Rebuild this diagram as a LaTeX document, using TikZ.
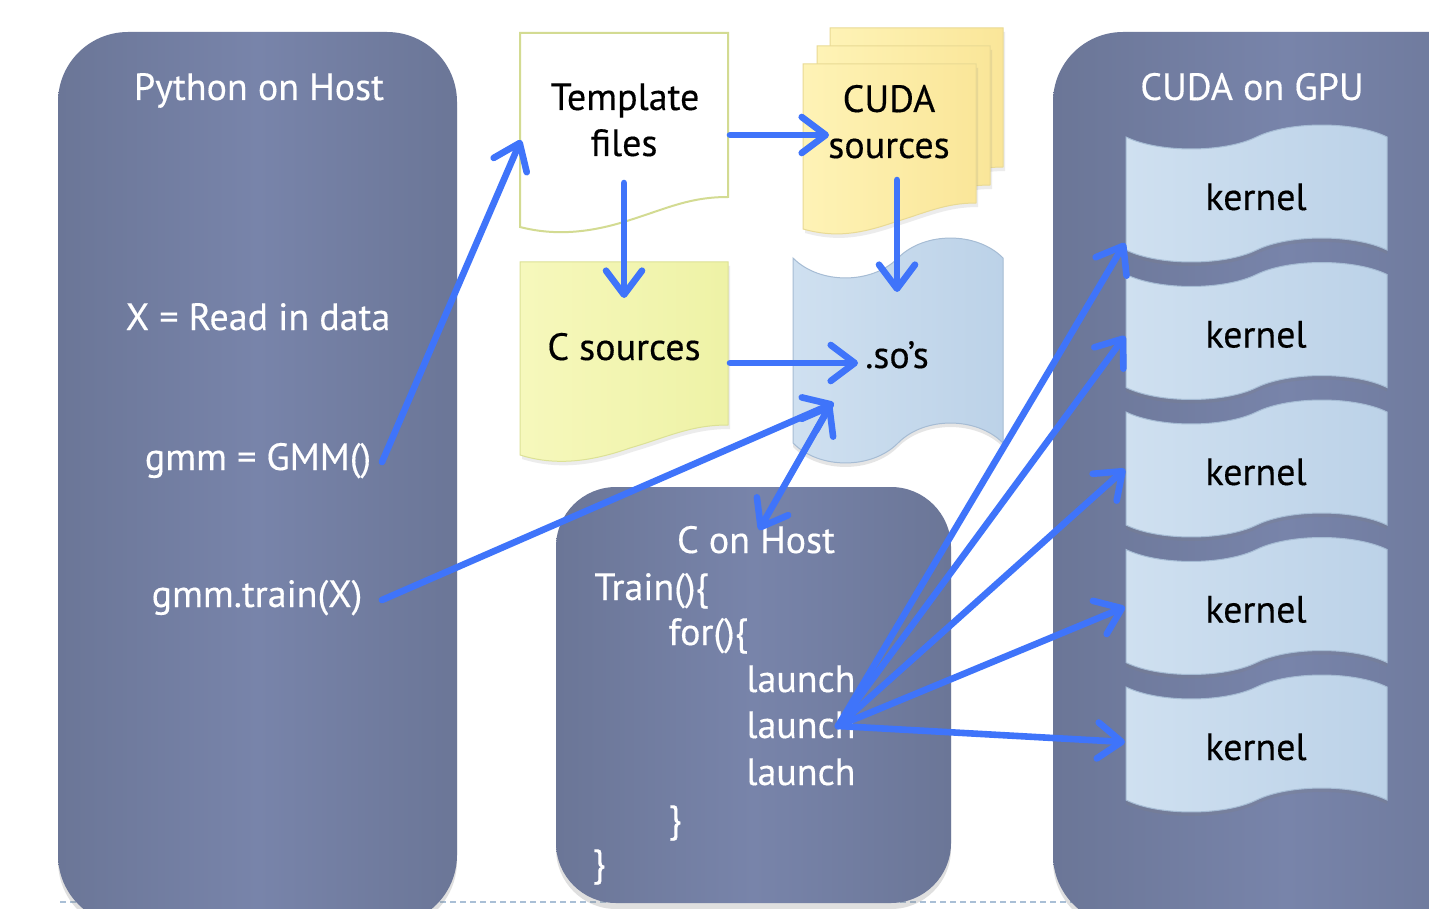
\documentclass[tikz,border=0pt]{standalone}
\usepackage{fontspec}
\setmainfont{PT Sans}[FakeBold=0.35]
\usetikzlibrary{arrows.meta,shadows}

\definecolor{panelEdge}{HTML}{6B7697}
\definecolor{panelMid}{HTML}{7884AA}
\definecolor{flowBlue}{HTML}{3F74FA}
\definecolor{tplLine}{HTML}{D3DB92}
\definecolor{cudaA}{HTML}{FEF3B6}
\definecolor{cudaB}{HTML}{FAE699}
\definecolor{cudaLine}{HTML}{E9DA94}
\definecolor{csrcA}{HTML}{F6F8BC}
\definecolor{csrcB}{HTML}{EEF2A6}
\definecolor{csrcLine}{HTML}{DCE196}
\definecolor{tapeA}{HTML}{CFE0F0}
\definecolor{tapeB}{HTML}{BCD2E8}
\definecolor{tapeLine}{HTML}{A6BCD4}
\definecolor{rule}{HTML}{A9BFD6}

% punched-tape outline: x0, x1, top y, bottom y, wave amplitude
\def\tapepath#1#2#3#4#5{%
  ({#1},{#3}) .. controls ({#1+0.125*(#2-#1)},{#3+1.33*#5}) and ({#1+0.375*(#2-#1)},{#3+1.33*#5}) .. ({0.5*(#1+#2)},{#3})
  .. controls ({#1+0.625*(#2-#1)},{#3-1.33*#5}) and ({#1+0.875*(#2-#1)},{#3-1.33*#5}) .. ({#2},{#3})
  -- ({#2},{#4}) .. controls ({#1+0.875*(#2-#1)},{#4-1.33*#5}) and ({#1+0.625*(#2-#1)},{#4-1.33*#5}) .. ({0.5*(#1+#2)},{#4})
  .. controls ({#1+0.375*(#2-#1)},{#4+1.33*#5}) and ({#1+0.125*(#2-#1)},{#4+1.33*#5}) .. ({#1},{#4}) -- cycle}

\tikzset{
  panel/.style={rounded corners=35pt, left color=panelEdge, right color=panelEdge, middle color=panelMid,
    drop shadow={opacity=0.25, shadow xshift=0pt, shadow yshift=-3pt}},
  tplsheet/.style={fill=white, draw=tplLine, line width=1pt},
  cudasheet/.style={left color=cudaA, right color=cudaB, draw=cudaLine, line width=0.5pt,
    drop shadow={opacity=0.15, shadow xshift=1pt, shadow yshift=-2pt}},
  csheet/.style={left color=csrcA, right color=csrcB, draw=csrcLine, line width=0.5pt,
    drop shadow={opacity=0.15, shadow xshift=1pt, shadow yshift=-2pt}},
  tapesheet/.style={left color=tapeA, right color=tapeB, draw=tapeLine, line width=0.5pt,
    drop shadow={opacity=0.2, shadow xshift=0pt, shadow yshift=-2pt}},
  label/.style={font=\fontsize{19}{23}\selectfont, anchor=base, inner sep=0pt},
  wlabel/.style={label, text=white},
  blabel/.style={label, text=black},
  codeline/.style={wlabel, anchor=base west},
  barb/.tip={Straight Barb[length=12pt, width=18pt, round]},
  flow/.style={draw=flowBlue, line width=3.3pt, line cap=round, line join=round, -barb},
  bothflow/.style={flow, barb-barb},
}

\begin{document}
\begin{tikzpicture}[x=0.5pt, y=-0.5pt]
\useasboundingbox (0,0) rectangle (1429,909);
\fill[white] (0,0) rectangle (1429,909);
\clip (0,0) rectangle (1429,909);

% dotted slide rule at the bottom
\draw[rule, line width=1pt, dash pattern=on 3pt off 2pt] (60,902) -- (1080,902);

% three execution domains
\path[panel] (58,32) rectangle (457,925);
\path[panel] (1053,32) rectangle (1520,925);
\path[panel, rounded corners=30pt] (556,487) rectangle (951,903);

% template file
\path[tplsheet] (520,33) -- (728,33) -- (728,197)
  .. controls (690,197) and (668,208) .. (630,220)
  .. controls (590,233) and (555,236) .. (520,227) -- cycle;

% stack of CUDA sources
\foreach \dx/\dy in {27/-36, 14/-18, 0/0} {
  \path[cudasheet, shift={(\dx,\dy)}] (803,64) -- (976,64) -- (976,203)
    .. controls (945,203) and (925,213) .. (895,222)
    .. controls (860,234) and (835,238) .. (803,229) -- cycle;
}

% C sources
\path[csheet] (520,262) -- (728,262) -- (728,425)
  .. controls (690,425) and (668,437) .. (630,448)
  .. controls (590,462) and (555,466) .. (520,455) -- cycle;

% shared objects
\path[tapesheet] \tapepath{793}{1003}{258}{443}{20};

% GPU kernels
\foreach \k in {0,...,4} {
  \pgfmathsetmacro\ky{137.5*\k}
  \path[tapesheet] \tapepath{1126}{1387}{137+\ky}{250+\ky}{12};
  \node[blabel] (kern\k) at (1256,{210+\ky}) {kernel};
}

% panel titles and host code
\node[wlabel] (pyhost) at (259,100) {Python on Host};
\node[wlabel] (gpu) at (1252,100) {CUDA on GPU};
\node[wlabel] (readx) at (258,330) {X = Read in data};
\node[wlabel] (mkgmm) at (258,470) {gmm = GMM()};
\node[wlabel] (train) at (257,607) {gmm.train(X)};

\node[wlabel] (chost) at (756,553) {C on Host};
\node[codeline] (ctrain) at (594,600) {Train()\{};
\node[codeline] (cfor) at (668,645) {for()\{};
\node[codeline] (launchA) at (746,692) {launch};
\node[codeline] (launchB) at (746,738) {launch};
\node[codeline] (launchC) at (746,785) {launch};
\node[codeline] (cclose) at (668,832) {\}};
\node[codeline] (tclose) at (592,876) {\}};

% document labels
\node[blabel] (tpl1) at (625,110) {Template};
\node[blabel] (tpl2) at (624,156) {files};
\node[blabel] (cuda1) at (889,112) {CUDA};
\node[blabel] (cuda2) at (889,158) {sources};
\node[blabel] (csrc) at (624,360) {C sources};
\node[blabel] (sos) at (897,368) {.so’s};

% connector ends
\coordinate (mkgmmOut) at (382,462);
\coordinate (tplIn) at (521,140);
\coordinate (tplOut) at (730,135);
\coordinate (tplDown) at (624,183);
\coordinate (cudaIn) at (829,135);
\coordinate (cudaDown) at (897,180);
\coordinate (csrcIn) at (624,298);
\coordinate (csrcOut) at (730,363);
\coordinate (sosIn) at (858,363);
\coordinate (sosLow) at (834,403);
\coordinate (sosLink) at (831,404);
\coordinate (sosTop) at (897,292);
\coordinate (trainOut) at (382,600);
\coordinate (chostIn) at (759,530);
\coordinate (launchOut) at (838,726);
\coordinate (kin0) at (1125,243);
\coordinate (kin1) at (1125,336);
\coordinate (kin2) at (1125,469);
\coordinate (kin3) at (1125,607);
\coordinate (kin4) at (1125,742);

% data flow
\draw[flow] (mkgmmOut) -- (tplIn);
\draw[flow] (tplOut) -- (cudaIn);
\draw[flow] (tplDown) -- (csrcIn);
\draw[flow] (cudaDown) -- (sosTop);
\draw[flow] (csrcOut) -- (sosIn);
\draw[flow] (trainOut) -- (sosLow);
\draw[bothflow] (chostIn) -- (sosLink);
\foreach \k in {0,...,4} {
  \draw[flow] (launchOut) -- (kin\k);
}
\end{tikzpicture}
\end{document}
